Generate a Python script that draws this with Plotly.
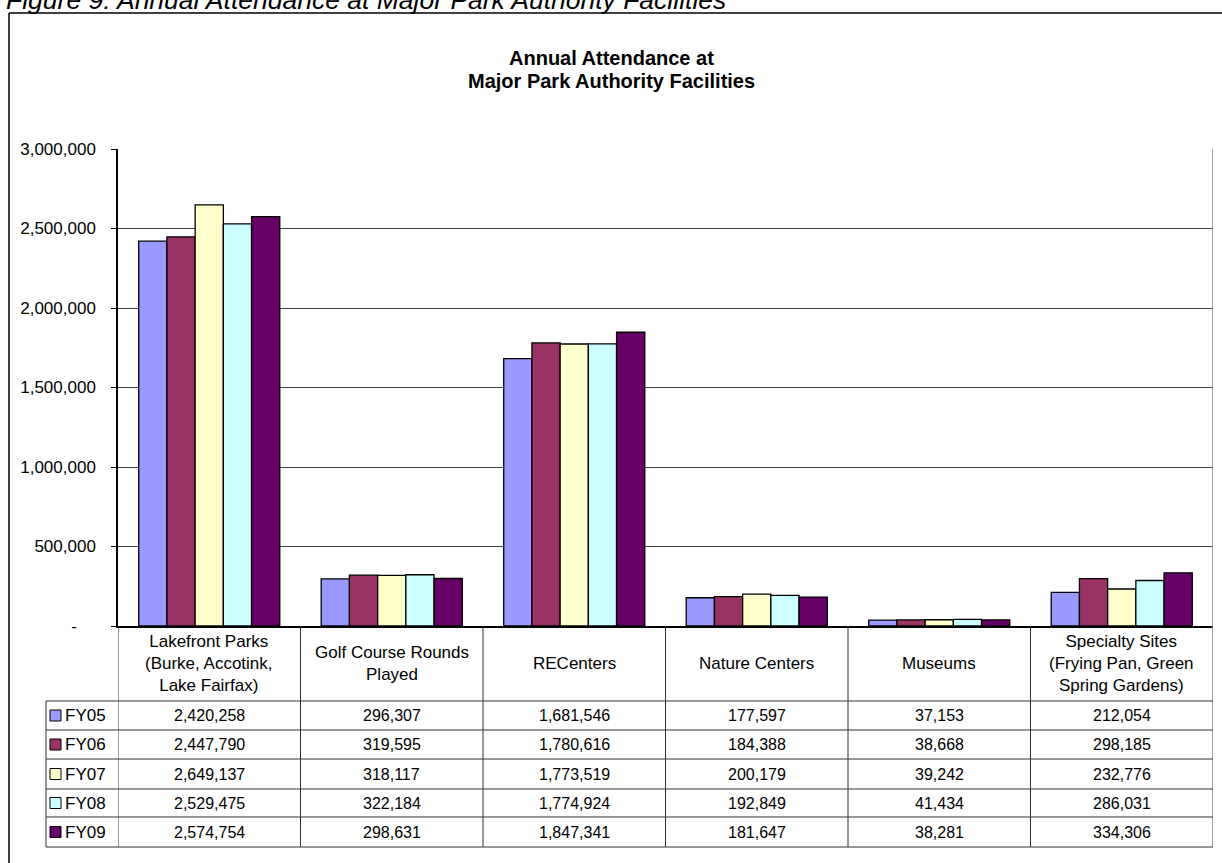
import plotly.graph_objects as go

# Facility categories (header text of the data table)
categories = [
    "Lakefront Parks<br>(Burke, Accotink,<br>Lake Fairfax)",
    "Golf Course Rounds<br>Played",
    "RECenters",
    "Nature Centers",
    "Museums",
    "Specialty Sites<br>(Frying Pan, Green<br>Spring Gardens)",
]

# Annual attendance by fiscal year
series_names = ["FY05", "FY06", "FY07", "FY08", "FY09"]
fy05 = [2420258, 296307, 1681546, 177597, 37153, 212054]
fy06 = [2447790, 319595, 1780616, 184388, 38668, 298185]
fy07 = [2649137, 318117, 1773519, 200179, 39242, 232776]
fy08 = [2529475, 322184, 1774924, 192849, 41434, 286031]
fy09 = [2574754, 298631, 1847341, 181647, 38281, 334306]
series_values = [fy05, fy06, fy07, fy08, fy09]
series_colors = ["#9999FF", "#993366", "#FFFFCC", "#CCFFFF", "#660066"]

y_tick_values = [0, 500000, 1000000, 1500000, 2000000, 2500000, 3000000]
y_tick_labels = ["-" + "\u00a0" * 4, "500,000", "1,000,000", "1,500,000",
                 "2,000,000", "2,500,000", "3,000,000"]

FONT = "Arial, 'Liberation Sans', sans-serif"

# Figure geometry (pixels)
W, H = 1222, 863
L, R, T, B = 118, 1213, 149, 626


def px_x(p):
    return (p - L) / (R - L)


def px_y(p):
    return (B - p) / (B - T)


fig = go.Figure()
x_idx = list(range(len(categories)))
for name, vals, col in zip(series_names, series_values, series_colors):
    fig.add_trace(go.Bar(
        x=x_idx, y=vals, name=name,
        marker=dict(color=col, line=dict(color="black", width=1.3)),
    ))

shapes = []
annotations = []

# Outer chart frame (left and top edges visible)
shapes.append(dict(type="line", xref="paper", yref="paper",
                   x0=px_x(9), x1=px_x(W + 5), y0=px_y(13), y1=px_y(13),
                   line=dict(color="black", width=1.5)))
shapes.append(dict(type="line", xref="paper", yref="paper",
                   x0=px_x(9), x1=px_x(9), y0=px_y(13), y1=px_y(H + 5),
                   line=dict(color="black", width=1.5)))

# Plot area right border, continuing down as the table edge
row_lines = [701, 730, 759, 789, 817, 847]
table_bottom = px_y(row_lines[-1])
shapes.append(dict(type="line", xref="x", yref="paper",
                   x0=len(categories) - 0.5, x1=len(categories) - 0.5,
                   y0=1, y1=table_bottom,
                   line=dict(color="#808080", width=1.5)))

# Data table: column separators at category boundaries
for i in range(len(categories)):
    shapes.append(dict(type="line", xref="x", yref="paper",
                       x0=i - 0.5, x1=i - 0.5, y0=0, y1=table_bottom,
                       line=dict(color="#303030", width=1)))
# Row separators
for r in row_lines:
    shapes.append(dict(type="line", xref="paper", yref="paper",
                       x0=px_x(46), x1=1, y0=px_y(r), y1=px_y(r),
                       line=dict(color="#303030", width=1)))
# Left edge of the legend column
shapes.append(dict(type="line", xref="paper", yref="paper",
                   x0=px_x(46), x1=px_x(46), y0=px_y(row_lines[0]), y1=table_bottom,
                   line=dict(color="#303030", width=1)))

table_font = dict(family=FONT, size=16, color="black")
header_font = dict(family=FONT, size=17, color="black")

# Header row (category names)
for i, cat in enumerate(categories):
    annotations.append(dict(xref="x", yref="paper", x=i, y=px_y(663),
                            text=cat, showarrow=False, font=header_font,
                            xanchor="center", yanchor="middle", align="center"))

# Value rows with legend keys
for k, (name, vals, col) in enumerate(zip(series_names, series_values, series_colors)):
    top, bot = row_lines[k], row_lines[k + 1]
    mid = (top + bot) / 2
    shapes.append(dict(type="rect", xref="paper", yref="paper",
                       x0=px_x(50), x1=px_x(61), y0=px_y(mid - 5.5), y1=px_y(mid + 5.5),
                       fillcolor=col, line=dict(color="black", width=1)))
    annotations.append(dict(xref="paper", yref="paper", x=px_x(63), y=px_y(mid),
                            text=name, showarrow=False, font=header_font,
                            xanchor="left", yanchor="middle"))
    for i, v in enumerate(vals):
        annotations.append(dict(xref="x", yref="paper", x=i, y=px_y(mid),
                                text=f"{v:,}", showarrow=False, font=table_font,
                                xanchor="center", yanchor="middle"))

# Chart title
title_font = dict(family=FONT, size=20, color="black")
annotations.append(dict(xref="paper", yref="paper", x=px_x(611), y=px_y(58),
                        text="<b>Annual Attendance at</b>", showarrow=False,
                        font=title_font, xanchor="center", yanchor="middle"))
annotations.append(dict(xref="paper", yref="paper", x=px_x(611), y=px_y(81),
                        text="<b>Major Park Authority Facilities</b>", showarrow=False,
                        font=title_font, xanchor="center", yanchor="middle"))

# Figure caption above the frame
annotations.append(dict(xref="paper", yref="paper", x=px_x(4), y=px_y(17),
                        text="<i>Figure 9: Annual Attendance at Major Park Authority Facilities</i>",
                        showarrow=False, font=dict(family=FONT, size=26.5, color="black"),
                        xanchor="left", yanchor="bottom"))

fig.update_layout(
    width=W, height=H,
    margin=dict(l=L, r=W - R, t=T, b=H - B, pad=0),
    paper_bgcolor="white", plot_bgcolor="white",
    barmode="group", bargap=0.227, bargroupgap=0,
    showlegend=False,
    font=dict(family=FONT, color="black"),
    shapes=shapes, annotations=annotations,
    xaxis=dict(range=[-0.5, len(categories) - 0.5], showticklabels=False,
               showgrid=False, zeroline=False, ticks="",
               showline=True, linecolor="black", linewidth=1.5),
    yaxis=dict(range=[0, 3000000], tickvals=y_tick_values, ticktext=y_tick_labels,
               showgrid=True, gridcolor="#404040", gridwidth=1, zeroline=False,
               showline=True, linecolor="black", linewidth=1.5,
               ticks="outside", ticklen=5, tickcolor="black", tickwidth=1,
               ticklabelstandoff=12,
               tickfont=dict(family=FONT, size=17, color="black")),
)

fig.write_html("out.html")
